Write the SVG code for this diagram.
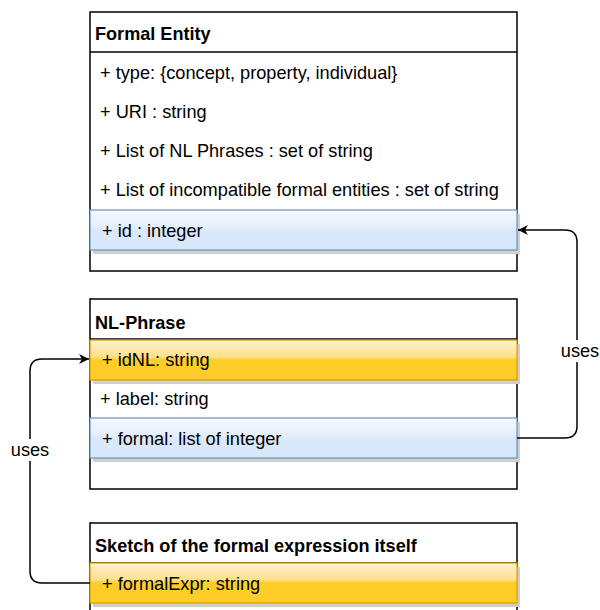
<svg xmlns="http://www.w3.org/2000/svg" width="600" height="610" viewBox="0 0 600 610">
<defs>
<style>
text{font-family:"Liberation Sans",Arial,Helvetica,sans-serif;font-size:18.2px;fill:#000}
.hd{font-weight:bold;font-size:18.1px}
.box{fill:#fff;stroke:#000;stroke-width:1.5}
.sep{stroke:#000;stroke-width:1.5}
.shadow{fill:#cfcfcf}
.blue{fill:url(#gBlue);stroke:#6c8ebf;stroke-width:1.2}
.orange{fill:url(#gOrange);stroke:#d79b00;stroke-width:1.2}
.conn{fill:none;stroke:#000;stroke-width:1.5}
.lbl{text-anchor:middle}
</style>
<linearGradient id="gBlue" x1="0" y1="0" x2="0" y2="1">
<stop offset="0" stop-color="#f5f9fe"/>
<stop offset="0.45" stop-color="#e3edfc"/>
<stop offset="0.5" stop-color="#dae8fc"/>
<stop offset="1" stop-color="#dae8fc"/>
</linearGradient>
<linearGradient id="gOrange" x1="0" y1="0" x2="0" y2="1">
<stop offset="0" stop-color="#fdf2d2"/>
<stop offset="0.42" stop-color="#fde08a"/>
<stop offset="0.5" stop-color="#ffcd28"/>
<stop offset="1" stop-color="#ffcd28"/>
</linearGradient>
<marker id="arr" viewBox="0 0 10 10" refX="10" refY="5" markerWidth="10" markerHeight="10" markerUnits="userSpaceOnUse" orient="auto">
<path d="M0,0 L10,5 L0,10 L3,5 z" fill="#000"/>
</marker>
</defs>

<g id="formal-entity">
<rect class="box" x="90" y="12" width="427" height="259"/>
<line class="sep" x1="90" y1="52" x2="517" y2="52"/>
<text class="hd" x="95" y="40">Formal Entity</text>
<text x="100" y="79">+ type: {concept, property, individual}</text>
<text x="100" y="118">+ URI : string</text>
<text x="100" y="157">+ List of NL Phrases : set of string</text>
<text x="100" y="196">+ List of incompatible formal entities : set of string</text>
<rect class="shadow" x="93" y="214" width="427" height="40"/>
<rect class="blue" x="90" y="210" width="427" height="40"/>
<text x="102" y="237">+ id : integer</text>
</g>

<g id="nl-phrase">
<rect class="box" x="90" y="299" width="427" height="190"/>
<line class="sep" x1="90" y1="339" x2="517" y2="339"/>
<text class="hd" x="95" y="329">NL-Phrase</text>
<rect class="shadow" x="93" y="344" width="427" height="40"/>
<rect class="orange" x="90" y="340" width="427" height="40"/>
<text x="102" y="366">+ idNL: string</text>
<text x="100" y="405">+ label: string</text>
<rect class="shadow" x="93" y="422" width="427" height="40"/>
<rect class="blue" x="90" y="418" width="427" height="40"/>
<text x="102" y="445">+ formal: list of integer</text>
</g>

<g id="sketch">
<rect class="box" x="90" y="523" width="427" height="120"/>
<line class="sep" x1="90" y1="563" x2="517" y2="563"/>
<text class="hd" x="95" y="552">Sketch of the formal expression itself</text>
<rect class="shadow" x="93" y="567" width="427" height="40"/>
<rect class="orange" x="90" y="563" width="427" height="40"/>
<text x="102" y="590">+ formalExpr: string</text>
</g>

<g id="connectors">
<path class="conn" d="M517,438 H565 Q577,438 577,426 V242 Q577,230 565,230 H518" marker-end="url(#arr)"/>
<rect x="558" y="340" width="40" height="22" fill="#fff"/>
<text class="lbl" x="580" y="357">uses</text>
<path class="conn" d="M90,583 H42 Q30,583 30,571 V371 Q30,359 42,359 H89" marker-end="url(#arr)"/>
<rect x="9" y="439" width="42" height="22" fill="#fff"/>
<text class="lbl" x="30" y="456">uses</text>
</g>
</svg>
